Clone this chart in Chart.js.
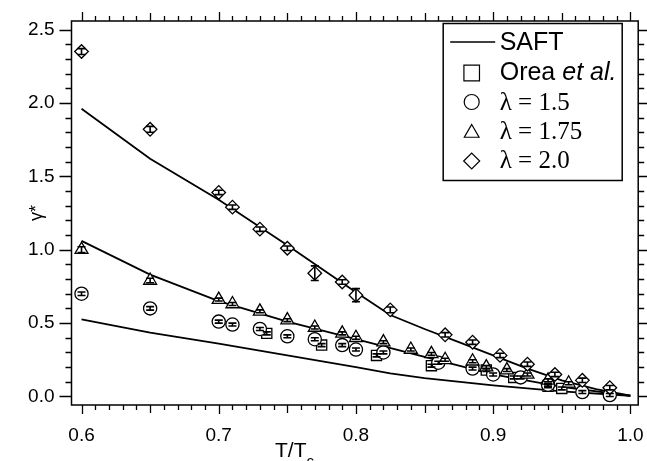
<!DOCTYPE html>
<html><head><meta charset="utf-8">
<script src="https://cdn.jsdelivr.net/npm/chart.js@4.4.0/dist/chart.umd.min.js"></script>
<style>html,body{margin:0;padding:0;background:#fff}canvas{display:block}</style>
</head><body>
<canvas id="c" width="647" height="461"></canvas>
<script>
// ---- data ----
const saft20T = [0.60,0.65,0.70,0.75,0.80,0.825,0.85,0.875,0.90,0.925,0.95,0.975,1.00];
const saft20Y = [1.96,1.62,1.34,1.03,0.71,0.555,0.46,0.37,0.28,0.19,0.11,0.05,0.005];
const saft175T = [0.60,0.65,0.70,0.75,0.80,0.85,0.90,0.95,1.00];
const saft175Y = [1.06,0.83,0.65,0.51,0.39,0.27,0.15,0.065,0.005];
const saft15T = [0.60,0.65,0.70,0.75,0.80,0.825,0.85,0.90,0.95,1.00];
const saft15Y = [0.525,0.435,0.36,0.28,0.20,0.157,0.125,0.075,0.035,0.005];

const oreaT = [0.735,0.775,0.815,0.855,0.895,0.915,0.94,0.95];
const oreaY = [0.43,0.35,0.28,0.21,0.18,0.13,0.07,0.055];
const oreaE = [0.01,0.01,0.01,0.01,0.01,0.01,0.01,0.01];

const lam15T = [0.60,0.65,0.70,0.71,0.73,0.75,0.77,0.79,0.80,0.82,0.86,0.885,0.90,0.92,0.94,0.965,0.985];
const lam15Y = [0.70,0.60,0.51,0.49,0.46,0.41,0.39,0.35,0.32,0.30,0.23,0.19,0.15,0.13,0.08,0.03,0.01];
const lam15E = [0.012,0.012,0.01,0.01,0.01,0.01,0.01,0.01,0.01,0.01,0.01,0.01,0.01,0.01,0.01,0.01,0.01];

const lam175T = [0.60,0.65,0.70,0.71,0.73,0.75,0.77,0.79,0.80,0.82,0.84,0.855,0.865,0.885,0.895,0.91,0.925,0.94,0.955];
const lam175Y = [1.00,0.79,0.66,0.63,0.58,0.52,0.47,0.43,0.40,0.37,0.32,0.29,0.25,0.24,0.20,0.18,0.15,0.11,0.09];
const lam175E = [0.02,0.015,0.01,0.01,0.01,0.01,0.01,0.01,0.01,0.01,0.01,0.01,0.01,0.01,0.01,0.01,0.01,0.01,0.01];

const lam20T = [0.60,0.65,0.70,0.71,0.73,0.75,0.77,0.79,0.80,0.825,0.865,0.885,0.905,0.925,0.945,0.965,0.985];
const lam20Y = [2.35,1.82,1.39,1.29,1.14,1.01,0.84,0.78,0.69,0.59,0.42,0.37,0.28,0.22,0.15,0.11,0.06];
const lam20E = [0.02,0.02,0.015,0.015,0.015,0.015,0.05,0.015,0.045,0.02,0.015,0.015,0.015,0.015,0.015,0.015,0.015];

const xTickLabels = ['0.6','0.7','0.8','0.9','1.0'];
const yTickLabels = ['0.0','0.5','1.0','1.5','2.0','2.5'];

const legendLabels = ['SAFT','Orea ','et al.','λ = 1.5','λ = 1.75','λ = 2.0'];

const SANS = '"Liberation Sans", Arial, Helvetica, sans-serif';
const SERIF = '"Liberation Serif", "Times New Roman", serif';

function pts(t, v){ return t.map((x,i)=>({x:x, y:v[i]})); }

function lineDs(t, v){
  return {data:pts(t,v), showLine:true, pointRadius:0, borderColor:'#000', borderWidth:1.8, tension:0, fill:false, order:10};
}
function markDs(t, v, e, style, r){
  return {data:pts(t,v), errors:e, showLine:false, pointStyle:style, pointRadius:r, pointHoverRadius:r,
          pointBackgroundColor:'#fff', pointBorderColor:'#000', pointBorderWidth:1.3, order:1};
}

const errorBars = {
  id:'errorBars',
  afterDatasetsDraw(chart){
    const ctx = chart.ctx, ys = chart.scales.y;
    ctx.save();
    ctx.strokeStyle = '#000'; ctx.lineWidth = 1.6;
    chart.data.datasets.forEach((ds, di)=>{
      if (!ds.errors) return;
      const meta = chart.getDatasetMeta(di);
      meta.data.forEach((el, i)=>{
        const v = ds.data[i].y, e = ds.errors[i];
        const y1 = ys.getPixelForValue(v + e), y2 = ys.getPixelForValue(v - e);
        const x = el.x, w = 4;
        ctx.beginPath();
        ctx.moveTo(x, y1); ctx.lineTo(x, y2);
        ctx.moveTo(x - w, y1); ctx.lineTo(x + w, y1);
        ctx.moveTo(x - w, y2); ctx.lineTo(x + w, y2);
        ctx.stroke();
      });
    });
    ctx.restore();
  }
};

const frame = {
  id:'frame',
  afterDraw(chart){
    const ctx = chart.ctx, a = chart.chartArea, xs = chart.scales.x, ys = chart.scales.y;
    ctx.save();
    ctx.strokeStyle = '#000';
    ctx.lineWidth = 1.5;
    ctx.strokeRect(a.left, a.top, a.right - a.left, a.bottom - a.top);
    ctx.lineWidth = 1.3;
    ctx.beginPath();
    for (let i = 60; i <= 100; i++){
      const px = Math.round(xs.getPixelForValue(i/100)) + 0.5;
      const L = (i % 10 === 0) ? 9 : ((i % 5 === 0) ? 8 : 5);
      ctx.moveTo(px, a.bottom); ctx.lineTo(px, a.bottom + L);
      ctx.moveTo(px, a.top); ctx.lineTo(px, a.top - L);
    }
    for (let j = 0; j <= 25; j++){
      const py = Math.round(ys.getPixelForValue(j/10)) + 0.5;
      const L = (j % 5 === 0) ? 12 : 6;
      ctx.moveTo(a.left, py); ctx.lineTo(a.left - L, py);
      ctx.moveTo(a.right, py); ctx.lineTo(a.right + L, py);
    }
    ctx.stroke();

    // axis titles
    ctx.fillStyle = '#000';
    ctx.textBaseline = 'alphabetic';
    ctx.textAlign = 'left';
    ctx.font = '21px ' + SANS;
    const tx = a.left + 203.5;
    ctx.fillText('T/T', tx, 457);
    const w = ctx.measureText('T/T').width;
    ctx.font = '15px ' + SANS;
    ctx.fillText('c', tx + w, 466);

    ctx.save();
    ctx.translate(37, (a.top + a.bottom) / 2);
    ctx.rotate(-Math.PI/2);
    ctx.textAlign = 'center';
    ctx.textBaseline = 'middle';
    ctx.font = '18px ' + SANS;
    ctx.fillText('γ*', 0, 0);
    ctx.restore();

    // legend
    const L0 = a.right - 195, T0 = a.top + 2.5;
    ctx.lineWidth = 1.5;
    ctx.fillStyle = '#fff';
    ctx.fillRect(L0, T0, 179, 157);
    ctx.strokeRect(L0, T0, 179, 157);
    ctx.fillStyle = '#000';
    ctx.beginPath();
    ctx.lineWidth = 1.6;
    ctx.moveTo(L0 + 7, T0 + 18.5); ctx.lineTo(L0 + 52, T0 + 18.5);
    ctx.stroke();
    const sx = L0 + 28.5, txl = L0 + 56.5;
    ctx.textAlign = 'left';
    ctx.textBaseline = 'alphabetic';
    ctx.font = '25px ' + SANS;
    ctx.fillText(legendLabels[0], txl, T0 + 26.5);
    ctx.fillText(legendLabels[1], txl, T0 + 56.5);
    const ow = ctx.measureText(legendLabels[1]).width;
    ctx.font = 'italic 25px ' + SANS;
    ctx.fillText(legendLabels[2], txl + ow, T0 + 56.5);
    ctx.font = '25px ' + SERIF;
    ctx.fillText(legendLabels[3], txl, T0 + 86);
    ctx.fillText(legendLabels[4], txl, T0 + 115.5);
    ctx.fillText(legendLabels[5], txl, T0 + 144);

    ctx.fillStyle = '#fff';
    ctx.strokeStyle = '#000';
    ctx.lineWidth = 1.2;
    const dp = Chart.helpers.drawPoint;
    dp(ctx, {pointStyle:'rect', radius:11, borderWidth:1.2, rotation:0}, sx, T0 + 49.5);
    dp(ctx, {pointStyle:'circle', radius:7.5, borderWidth:1.2, rotation:0}, sx, T0 + 78.5);
    dp(ctx, {pointStyle:'triangle', radius:8.5, borderWidth:1.2, rotation:0}, sx, T0 + 109.5);
    dp(ctx, {pointStyle:'rectRot', radius:8, borderWidth:1.2, rotation:0}, sx, T0 + 137.5);
    ctx.restore();
  }
};

new Chart(document.getElementById('c'), {
  type:'scatter',
  data:{datasets:[
    markDs(lam20T, lam20Y, lam20E, 'rectRot', 6.8),
    markDs(lam175T, lam175Y, lam175E, 'triangle', 7.5),
    markDs(lam15T, lam15Y, lam15E, 'circle', 6.6),
    markDs(oreaT, oreaY, oreaE, 'rect', 7.2),
    lineDs(saft20T, saft20Y),
    lineDs(saft175T, saft175Y),
    lineDs(saft15T, saft15Y)
  ]},
  options:{
    responsive:false, animation:false, devicePixelRatio:1,
    layout:{padding:{left:0, right:7, top:21, bottom:0}},
    plugins:{legend:{display:false}, tooltip:{enabled:false}},
    scales:{
      x:{type:'linear', min:0.5927, max:1.0057,
         afterFit(s){ s.height = 56; s.paddingLeft = 0; s.paddingRight = 0; },
         border:{display:false},
         grid:{display:true, drawOnChartArea:false, drawTicks:true, tickLength:9, color:'rgba(0,0,0,0)'},
         ticks:{stepSize:0.1, includeBounds:false, padding:10, color:'#000', maxRotation:0, autoSkip:false,
                font:{family:SANS, size:19},
                callback:(v)=>{ const s = v.toFixed(1); return xTickLabels.includes(s) ? s : ''; }}},
      y:{type:'linear', min:-0.058, max:2.558,
         afterFit(s){ s.width = 71.5; s.paddingTop = 0; s.paddingBottom = 0; },
         border:{display:false},
         grid:{display:true, drawOnChartArea:false, drawTicks:true, tickLength:12, color:'rgba(0,0,0,0)'},
         ticks:{stepSize:0.5, includeBounds:false, padding:5, color:'#000', autoSkip:false,
                font:{family:SANS, size:19},
                callback:(v)=>{ const s = v.toFixed(1); return yTickLabels.includes(s) ? s : ''; }}}
    }
  },
  plugins:[errorBars, frame]
});
</script>
</body></html>
